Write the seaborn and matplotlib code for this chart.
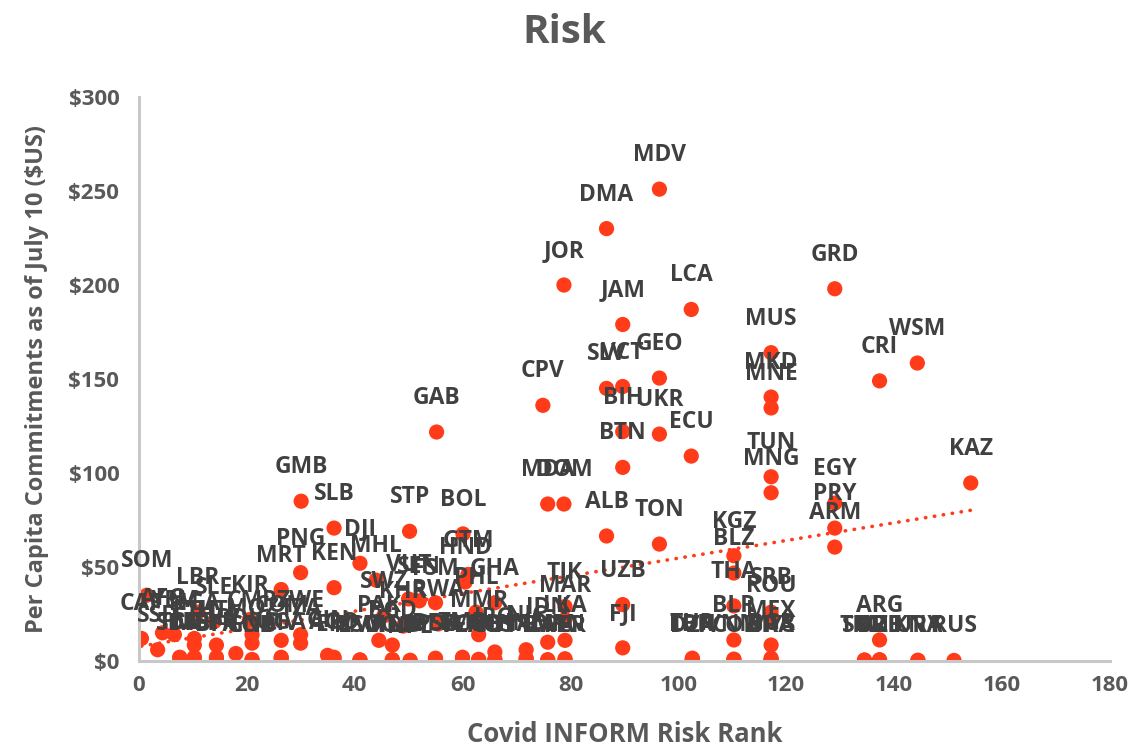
import matplotlib
matplotlib.use("Agg")
import matplotlib.pyplot as plt
import seaborn as sns
import pandas as pd
from matplotlib.ticker import FuncFormatter

countries = [
    "MDV", "DMA", "JOR", "GRD", "LCA", "JAM", "MUS", "WSM", "CRI", "GEO",
    "SLV", "VCT", "MKD", "MNE", "CPV", "BIH", "UKR", "GAB", "BTN", "ECU",
    "TUN", "MNG", "EGY", "PRY", "ARM", "KAZ", "GMB", "SLB", "STP", "BOL",
    "MDA", "DOM", "ALB", "TON", "KGZ", "BLZ", "THA", "BLR", "VNM", "SRB",
    "ROU", "MEX", "BGR", "MYS", "ARG", "SUR", "BRB", "KNA", "RUS", "DZA",
    "TUR", "UZB", "FJI",
    "CAF", "SOM", "SSD", "AFG", "YEM", "TCD", "NGA", "ETH", "NER", "LBR",
    "HTI", "SYR", "SLE", "BDI", "KIR", "CMR", "MOZ", "COD", "MRT", "COM",
    "UGA", "PNG", "ZWE", "TZA", "GIN", "AGO", "KEN", "DJI", "LSO", "MHL",
    "SWZ", "PAK", "BGD", "TGO", "KHR", "VUT", "SEN", "NPL", "FSM", "RWA",
    "BEN", "ZMB", "HND", "GTM", "PHL", "GHA", "MMR", "LAO", "IRQ", "TLS",
    "NIC", "IND", "IDN", "ZAF", "TJK", "MAR", "LKA", "PER",
    "SDN", "MLI", "BFA", "GNB", "CIV", "ERI", "MWI", "MDG", "LBY", "PSE",
    "VEN", "CUB", "GUY", "NAM", "BWA", "IRN", "LBN", "COL", "BRA", "TKM",
    "AZE", "URY",
]
risk_rank = [
    96.5, 86.7, 78.8, 129.0, 102.4, 89.7, 117.2, 144.3, 137.3, 96.5,
    86.7, 89.7, 117.2, 117.2, 74.9, 89.7, 96.5, 55.2, 89.7, 102.4,
    117.2, 117.2, 129.0, 129.0, 129.0, 154.2, 30.1, 36.2, 50.2, 60.1,
    75.8, 78.8, 86.7, 96.5, 110.3, 110.3, 110.3, 110.3, 110.3, 117.2,
    117.2, 117.2, 117.2, 117.2, 137.3, 134.5, 137.3, 144.4, 151.1, 102.6,
    102.6, 89.7, 89.7,
    0.5, 1.5, 3.5, 4.4, 6.6, 7.6, 10.3, 10.3, 10.3, 11.0,
    14.4, 14.4, 14.0, 18.0, 20.5, 21.0, 21.0, 21.0, 26.4, 26.4,
    26.4, 30.0, 30.0, 30.0, 35.0, 36.2, 36.2, 41.0, 41.0, 44.0,
    45.4, 44.5, 47.0, 47.0, 49.0, 50.0, 52.0, 50.3, 55.0, 55.5,
    55.0, 60.0, 60.5, 61.0, 62.5, 66.0, 63.0, 63.0, 66.0, 66.0,
    71.8, 71.8, 75.8, 75.8, 79.0, 79.0, 79.0, 79.0,
    7.6, 10.3, 14.4, 21.0, 26.4, 36.2, 41.0, 47.0, 50.3, 55.0,
    60.0, 63.0, 66.0, 71.8, 75.8, 79.0, 102.6, 110.3, 117.2, 134.5,
    137.3, 144.4,
]
per_capita = [
    251.0, 230.0, 200.0, 198.0, 187.0, 179.0, 164.0, 158.5, 149.0, 150.5,
    145.0, 146.0, 140.4, 134.6, 136.0, 122.0, 120.7, 121.8, 103.0, 109.0,
    98.0, 89.5, 84.0, 70.7, 60.6, 94.7, 85.0, 70.7, 69.0, 67.6,
    83.5, 83.5, 66.5, 62.2, 56.0, 46.8, 29.3, 11.2, 1.0, 26.0,
    22.0, 8.5, 1.5, 0.5, 11.2, 0.5, 0.5, 0.3, 0.3, 0.8,
    1.5, 30.0, 7.0,
    12.0, 35.0, 6.0, 15.0, 14.0, 2.0, 12.0, 8.5, 2.0, 26.0,
    8.5, 2.0, 21.0, 4.0, 22.0, 14.0, 9.5, 0.5, 38.0, 11.0,
    2.0, 47.0, 14.0, 9.5, 3.0, 2.0, 39.0, 52.0, 0.5, 43.0,
    24.0, 11.0, 8.5, 0.5, 18.6, 33.0, 32.0, 0.0, 31.0, 19.7,
    1.5, 2.0, 42.0, 46.0, 26.0, 31.0, 14.0, 0.5, 4.8, 0.5,
    6.0, 1.5, 10.0, 0.5, 29.0, 22.0, 11.0, 0.5,
    1.8, 1.5, 1.2, 0.8, 1.5, 1.0, 0.6, 0.8, 0.4, 1.2,
    0.6, 0.9, 0.8, 1.0, 0.7, 1.2, 1.0, 0.8, 0.6, 0.5,
    0.7, 0.4,
]

x_ticks = [0, 20, 40, 60, 80, 100, 120, 140, 160, 180]
y_ticks = [0, 50, 100, 150, 200, 250, 300]

title = "Risk"
x_label = "Covid INFORM Risk Rank"
y_label = "Per Capita Commitments as of July 10 ($US)"

df = pd.DataFrame({"country": countries, "rank": risk_rank, "value": per_capita})

sns.set_style("white")
plt.rcParams["font.family"] = ["Open Sans", "DejaVu Sans"]

dot = "#FF3B19"
txt = "#404040"
axis_txt = "#595959"

fig = plt.figure(figsize=(11.28, 7.52), dpi=100)
ax = fig.add_axes([0.123, 0.121, 0.861, 0.750])

# linear trendline (fitted by seaborn) drawn as a round-dotted line
sns.regplot(data=df, x="rank", y="value", ax=ax, scatter=False, ci=None,
            truncate=True,
            line_kws=dict(color=dot, lw=2.6, linestyle=(0, (0.1, 2.4)),
                          dash_capstyle="round", zorder=1))
sns.scatterplot(data=df, x="rank", y="value", ax=ax, color=dot, s=120,
                edgecolor="none", linewidth=0, zorder=2, legend=False)

for c, xv, yv in zip(df["country"], df["rank"], df["value"]):
    ax.annotate(c, (xv, yv), xytext=(0, 34), textcoords="offset pixels",
                ha="center", va="center", fontsize=16.5, fontweight="bold",
                color=txt, zorder=3)

ax.set_xlim(0, 180)
ax.set_ylim(0, 300)
ax.set_xticks(x_ticks)
ax.set_yticks(y_ticks)
ax.yaxis.set_major_formatter(FuncFormatter(lambda v, p: f"${v:,.0f}"))
ax.tick_params(axis="both", length=0, labelsize=16, labelcolor=axis_txt)
ax.tick_params(axis="y", pad=14)
ax.tick_params(axis="x", pad=10)
for lab in ax.get_xticklabels() + ax.get_yticklabels():
    lab.set_fontweight("bold")

for s in ["top", "right"]:
    ax.spines[s].set_visible(False)
for s in ["left", "bottom"]:
    ax.spines[s].set_color("#C8C8C8")
    ax.spines[s].set_linewidth(2.2)

ax.set_xlabel(x_label, fontsize=18.5, fontweight="bold", color=axis_txt, labelpad=18)
ax.set_ylabel(y_label, fontsize=17, fontweight="bold", color=axis_txt, labelpad=14)
fig.suptitle(title, x=0.5, y=0.983, fontsize=29, fontweight="bold", color=axis_txt)

fig.savefig("out.png", dpi=100)
